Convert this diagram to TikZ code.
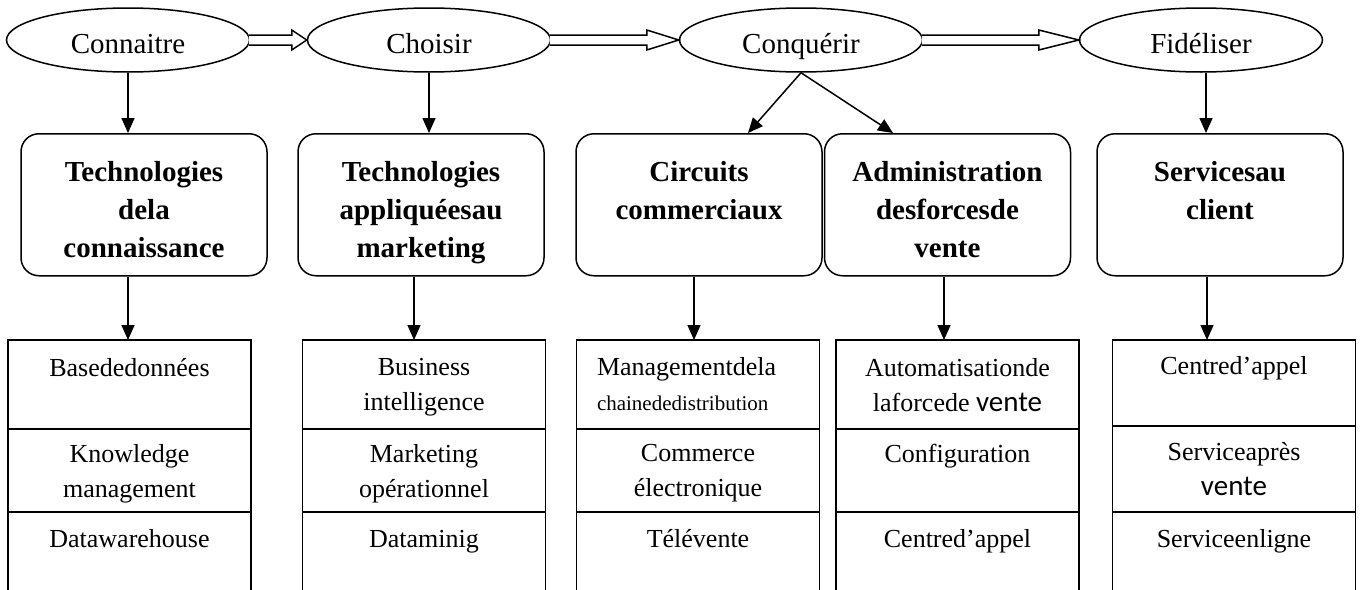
\documentclass[tikz,border=0pt]{standalone}
\usepackage{fontspec}
\setmainfont{Liberation Serif}
\newfontfamily\calibfont{Carlito}
\usetikzlibrary{arrows.meta,positioning,shapes.geometric}

\tikzset{
  phase/.style={ellipse,draw,minimum width=243pt,minimum height=64pt,inner sep=0pt,
    text height=26pt,text depth=0pt,font=\fontsize{29}{35}\selectfont},
  techno/.style={draw,rounded corners=18pt,minimum width=246pt,minimum height=142pt,
    inner sep=0pt,align=center,anchor=north,text height=105pt,text depth=0pt,
    font=\fontsize{29}{38}\selectfont\bfseries},
  cell/.style={draw,minimum width=243pt,inner sep=0pt,outer sep=0pt,align=center,
    text depth=0pt,font=\fontsize{26}{35}\selectfont},
  cellone/.style={cell,minimum height=89pt,anchor=north},
  celltwo/.style={cell,minimum height=83pt},
  cellthree/.style={cell,minimum height=88pt},
  hollow/.style={draw,fill=white}
}
% block arrow between two phases: from, to, head length
\newcommand{\blockarrow}[3]{%
  \draw[hollow] ([xshift=-1.5pt,yshift=5pt]#1.east) -- ([xshift=-#3,yshift=5pt]#2.west)
    -- ([xshift=-#3,yshift=10pt]#2.west) -- (#2.west)
    -- ([xshift=-#3,yshift=-10pt]#2.west) -- ([xshift=-#3,yshift=-5pt]#2.west)
    -- ([xshift=-1.5pt,yshift=-5pt]#1.east);}

\begin{document}
\begin{tikzpicture}[x=1pt,y=-1pt,line width=1.5pt,>={Triangle[length=15pt,width=13pt]}]
\useasboundingbox (0,0) rectangle (1360,589);

% phases
\node[phase] (conn) at (128,40) {Connaitre};
\node[phase] (choi) at (429,40) {Choisir};
\node[phase] (conq) at (801,40) {Conquérir};
\node[phase] (fide) at (1201,40) {Fidéliser};
\blockarrow{conn}{choi}{15pt}
\blockarrow{choi}{conq}{32pt}
\blockarrow{conq}{fide}{40pt}

% technologies
\node[techno] (techA) at (144,133) {Technologies\\dela\\connaissance};
\node[techno] (techB) at (421,133) {Technologies\\appliquéesau\\marketing};
\node[techno] (circ) at (699,133) {Circuits\\commerciaux\\\mbox{}};
\node[techno] (admin) at (947.5,133) {Administration\\desforcesde\\vente};
\node[techno] (serv) at (1220,133) {Servicesau\\client\\\mbox{}};

% outils
\node[cellone] (tabA1) at (129.5,340) {Basededonnées\\\mbox{}};
\node[celltwo,below=0pt of tabA1] (tabA2) {Knowledge\\management};
\node[cellthree,below=0pt of tabA2] (tabA3) {Datawarehouse\\\mbox{}};

\node[cellone] (tabB1) at (424,340) {Business\\intelligence};
\node[celltwo,below=0pt of tabB1] (tabB2) {Marketing\\opérationnel};
\node[cellthree,below=0pt of tabB2] (tabB3) {Dataminig\\\mbox{}};

\node[cellone,align=left,text width=202pt,text depth=] (tabC1) at (698,340)
  {Managementdela\\{\fontsize{21}{31}\selectfont chainededistribution}};
\node[celltwo,below=0pt of tabC1] (tabC2) {Commerce\\électronique};
\node[cellthree,below=0pt of tabC2] (tabC3) {Télévente\\\mbox{}};

\node[cellone] (tabD1) at (957.5,340)
  {Automatisationde\\laforcede {\calibfont\fontsize{29}{38}\selectfont vente}};
\node[celltwo,below=0pt of tabD1] (tabD2) {Configuration\\\mbox{}};
\node[cellthree,below=0pt of tabD2] (tabD3) {Centred’appel\\\mbox{}};

\node[cellone,minimum height=86pt] (tabE1) at (1234,340) {Centred’appel\\\mbox{}};
\node[celltwo,minimum height=86pt,below=0pt of tabE1] (tabE2)
  {Serviceaprès\\{\calibfont\fontsize{29}{38}\selectfont vente}};
\node[cellthree,below=0pt of tabE2] (tabE3) {Serviceenligne\\\mbox{}};

% liens
\draw[->] (conn.south) -- (conn.south |- techA.north);
\draw[->] (choi.south) -- (choi.south |- techB.north);
\draw[->] (conq.south) -- ([xshift=49pt]circ.north);
\draw[->] (conq.south) -- ([xshift=-54.5pt]admin.north);
\draw[->] ([xshift=5pt]fide.south) -- ([xshift=5pt]fide.south |- serv.north);
\draw[->] ([xshift=-16pt]techA.south) -- ([xshift=-16pt]techA.south |- tabA1.north);
\draw[->] ([xshift=-7pt]techB.south) -- ([xshift=-7pt]techB.south |- tabB1.north);
\draw[->] ([xshift=-5pt]circ.south) -- ([xshift=-5pt]circ.south |- tabC1.north);
\draw[->] ([xshift=-3.5pt]admin.south) -- ([xshift=-3.5pt]admin.south |- tabD1.north);
\draw[->] ([xshift=-13pt]serv.south) -- ([xshift=-13pt]serv.south |- tabE1.north);
\end{tikzpicture}
\end{document}
